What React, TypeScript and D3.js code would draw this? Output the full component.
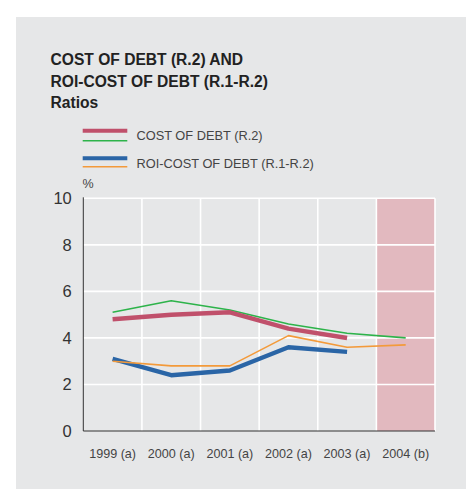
import React from "react";
import * as d3 from "d3";

const categories = ["1999 (a)", "2000 (a)", "2001 (a)", "2002 (a)", "2003 (a)", "2004 (b)"];
const costOfDebtThick = [4.8, 5.0, 5.1, 4.4, 4.0];
const costOfDebtThin = [5.1, 5.6, 5.2, 4.6, 4.2, 4.0];
const roiThick = [3.1, 2.4, 2.6, 3.6, 3.4];
const roiThin = [3.0, 2.8, 2.8, 4.1, 3.6, 3.7];
const yTicks = [0, 2, 4, 6, 8, 10];
const highlighted = ["2004 (b)"];

const W = 466;
const H = 489;
const left = 83.3;
const right = 435;
const top = 198.3;
const bottom = 431;

export default function App() {
  const x = d3.scaleBand<string>().domain(categories).range([left, right]).padding(0);
  const y = d3.scaleLinear().domain([0, 10]).range([bottom, top]);
  const cx = (i: number) => (x(categories[i]) as number) + x.bandwidth() / 2;
  const line = d3
    .line<number>()
    .x((_, i) => cx(i))
    .y((d) => y(d));

  const font = "'Liberation Sans', Arial, Helvetica, sans-serif";
  const series = [
    { data: costOfDebtThin, color: "#2db34a", w: 1.6 },
    { data: costOfDebtThick, color: "#c0506b", w: 4.5 },
    { data: roiThick, color: "#2a65a6", w: 4.5 },
    { data: roiThin, color: "#f39a3a", w: 1.6 },
  ];

  return (
    <svg
      width={W}
      height={H}
      style={{ position: "absolute", left: 0, top: 0, display: "block" }}
      fontFamily={font}
    >
      <rect x={0} y={0} width={W} height={H} fill="#ffffff" />
      <rect x={16} y={17} width={W - 16} height={H - 17} fill="#e6e7e8" />

      <text x={50.5} y={65} fontSize={15.6} fontWeight="bold" fill="#222">
        COST OF DEBT (R.2) AND
      </text>
      <text x={50.5} y={86.5} fontSize={15.6} fontWeight="bold" fill="#222">
        ROI-COST OF DEBT (R.1-R.2)
      </text>
      <text x={50.5} y={108} fontSize={15.6} fontWeight="bold" fill="#222">
        Ratios
      </text>

      {/* legend */}
      <line x1={82.7} x2={127.3} y1={130.7} y2={130.7} stroke="#c0506b" strokeWidth={4} />
      <line x1={82.7} x2={127.3} y1={140.7} y2={140.7} stroke="#2db34a" strokeWidth={1.6} />
      <text x={136.5} y={140.3} fontSize={12.8} fill="#444">COST OF DEBT (R.2)</text>
      <line x1={82.7} x2={127.3} y1={158.3} y2={158.3} stroke="#2a65a6" strokeWidth={4} />
      <line x1={82.7} x2={127.3} y1={166.7} y2={166.7} stroke="#f39a3a" strokeWidth={1.6} />
      <text x={136.5} y={167.8} fontSize={12.8} fill="#444">ROI-COST OF DEBT (R.1-R.2)</text>

      <text x={82.5} y={188} fontSize={12.5} fill="#444">%</text>

      {/* highlight band */}
      {highlighted.map((c) => (
        <rect
          key={c}
          x={x(c) as number}
          y={top}
          width={x.bandwidth()}
          height={bottom - top}
          fill="#e2b9bf"
        />
      ))}

      {/* grid */}
      {yTicks.filter((t) => t > 0).map((t) => (
        <line key={t} x1={left} x2={right} y1={y(t)} y2={y(t)} stroke="#ffffff" strokeWidth={1.6} />
      ))}
      {categories.map((c) => (
        <line
          key={c}
          x1={(x(c) as number) + x.bandwidth()}
          x2={(x(c) as number) + x.bandwidth()}
          y1={top}
          y2={bottom}
          stroke="#ffffff"
          strokeWidth={1.6}
        />
      ))}

      {/* axes */}
      <line x1={left} x2={left} y1={top - 1} y2={bottom} stroke="#333" strokeWidth={1} />
      <line x1={left} x2={right} y1={bottom} y2={bottom} stroke="#333" strokeWidth={1} />

      {yTicks.map((t) => (
        <text key={t} x={71.8} y={y(t) + 5.8} fontSize={16.5} textAnchor="end" fill="#333">
          {t}
        </text>
      ))}
      {categories.map((c, i) => (
        <text key={c} x={cx(i)} y={457.5} fontSize={12.6} textAnchor="middle" fill="#444">
          {c}
        </text>
      ))}

      {series.map((s, k) => (
        <path
          key={k}
          d={line(s.data) as string}
          fill="none"
          stroke={s.color}
          strokeWidth={s.w}
          strokeLinejoin="round"
        />
      ))}
    </svg>
  );
}
